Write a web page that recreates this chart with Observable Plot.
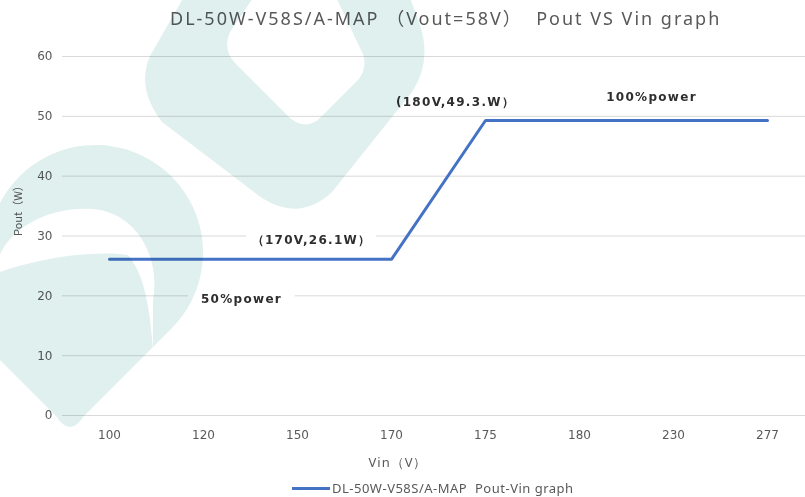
<!DOCTYPE html>
<html>
<head>
<meta charset="utf-8">
<script src="https://cdn.jsdelivr.net/npm/d3@7"></script>
<script src="https://cdn.jsdelivr.net/npm/@observablehq/plot@0.6"></script>
<style>
  html, body { margin: 0; padding: 0; background: #fff; }
  #wrap { position: relative; width: 805px; height: 497px; overflow: hidden; background: #fff; }
  #title { position: absolute; left: 170px; top: 0; font-family: "Noto Sans", "Noto Sans CJK SC", sans-serif;
           font-size: 18px; letter-spacing: 2px; line-height: 36px; color: #595959; white-space: pre; }
  #chart { position: absolute; left: 0; top: 38px; }
  #legend { position: absolute; left: 292px; top: 478px; display: flex; align-items: center; height: 20px;
            font-family: "Noto Sans", "Noto Sans CJK SC", sans-serif; font-size: 13px; letter-spacing: 0.5px;
            color: #595959; white-space: pre; }
  #legend .sw { width: 38px; height: 3px; background: #4472c4; margin-right: 2px; }
  #wm { position: absolute; left: 0; top: 0; mix-blend-mode: multiply; pointer-events: none; }
</style>
</head>
<body>
<div id="wrap">
  <div id="title"></div>
  <div id="chart"></div>
  <div id="legend"><div class="sw"></div><span id="legtext"></span></div>
  <svg id="wm" width="805" height="497" viewBox="0 0 805 497">
    <g fill="#e0f0ee">
      <path d="M185 -5 L150 56 Q136 88 162 122 L262 198 Q300 222 332 192 L412 92 Q432 62 420 25 L409 -5 Z"/>
      <path d="M84 416 L171.5 328.5 A107.5 107.5 0 1 0 -12 252.5 L-20 340 L56 416 Q70 438 84 416 Z"/>
    </g>
    <g fill="#ffffff">
      <path d="M255 -5 L230 32 Q222 50 236 64 L290 118 Q307 132 322 116 L358 80 Q370 65 360 48 L335 -5 Z"/>
      <path d="M0 254 C20 215, 70 205, 100 210 C140 218, 160 260, 153 300 L153 350 C150 310, 145 275, 128 255 C90 250, 40 258, 0 272 Z"/>
    </g>
  </svg>
</div>
<script>
// ---- data ----
const titleText = "DL-50W-V58S/A-MAP （Vout=58V）  Pout VS Vin graph";
const seriesName = "DL-50W-V58S/A-MAP  Pout-Vin graph";
const vinCategories = ["100", "120", "150", "170", "175", "180", "230", "277"];
const poutValues = [26.1, 26.1, 26.1, 26.1, 49.3, 49.3, 49.3, 49.3];
const yTicks = [0, 10, 20, 30, 40, 50, 60];
const xLabel = "Vin（V）";
const yLabel = "Pout（W）";
const annText = ["（170V,26.1W）", "50%power", "(180V,49.3.W）", "100%power"];
const annVin = ["150", "120", "175", "230"];
const annPout = [29.25, 19.4, 52.4, 53.15];

document.getElementById("title").textContent = titleText;
document.getElementById("legtext").textContent = seriesName;

const rows = vinCategories.map((v, i) => ({vin: v, pout: poutValues[i]}));
const ann = annText.map((t, i) => ({text: t, vin: annVin[i], pout: annPout[i]}));

const annStyle = {fontFamily: "DejaVu Sans", fontSize: 12, fontWeight: "bold", fill: "#2e2e2e", className: "ann"};

const chart = Plot.plot({
  width: 805,
  height: 438,
  marginLeft: 62,
  marginRight: 0,
  marginTop: 18,
  marginBottom: 61,
  style: {fontFamily: "DejaVu Sans", fontSize: "12px", color: "#595959", background: "transparent", overflow: "visible"},
  x: {type: "point", domain: vinCategories, range: [108, 768], padding: 0},
  y: {domain: [0, 60]},
  marks: [
    Plot.gridY(yTicks, {stroke: "#d9d9d9", strokeOpacity: 1}),
    Plot.axisY(yTicks, {tickSize: 0, tickPadding: 10, label: null, fill: "#595959"}),
    Plot.axisX({tickSize: 0, tickPadding: 15, label: null, fill: "#595959"}),
    Plot.text([yLabel], {frameAnchor: "left", dx: -44, rotate: -90, text: d => d,
      fontFamily: "Noto Sans CJK SC", fontSize: 11, fill: "#595959"}),
    Plot.text([xLabel], {frameAnchor: "bottom", dx: -36, dy: 47, lineAnchor: "middle", text: d => d,
      fontFamily: "Noto Sans", fontSize: 13, fill: "#595959", className: "xlab"}),
    Plot.text(ann.slice(0, 1), {x: "vin", y: "pout", text: "text", dx: 14, ...annStyle,
      stroke: "white", strokeWidth: 28}),
    Plot.text(ann.slice(1, 2), {x: "vin", y: "pout", text: "text", dx: 38, ...annStyle,
      stroke: "white", strokeWidth: 28}),
    Plot.text(ann.slice(2, 3), {x: "vin", y: "pout", text: "text", dx: -30, ...annStyle}),
    Plot.text(ann.slice(3, 4), {x: "vin", y: "pout", text: "text", dx: -22, ...annStyle}),
    Plot.line(rows, {x: "vin", y: "pout", stroke: "#4472c4", strokeWidth: 3, strokeLinejoin: "miter"})
  ]
});
document.getElementById("chart").appendChild(chart);
chart.querySelectorAll("g.ann text").forEach(t => { t.style.letterSpacing = "1.3px"; });
chart.querySelectorAll("g.xlab text").forEach(t => { t.style.letterSpacing = "1px"; });
</script>
</body>
</html>
